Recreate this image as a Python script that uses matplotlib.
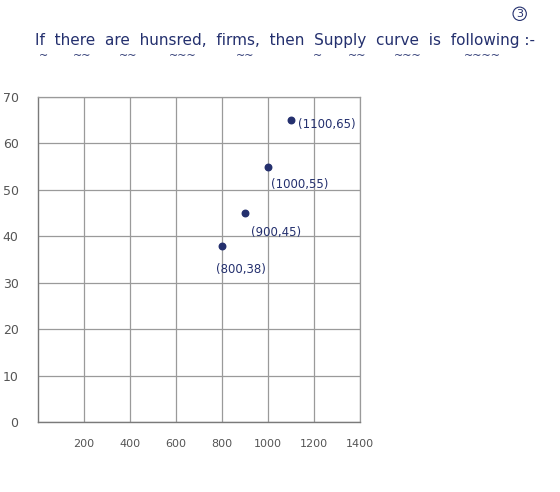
import matplotlib.pyplot as plt

# 供给曲线上的点
quantity = [800, 900, 1000, 1100]
price = [38, 45, 55, 65]
point_labels = ['(800,38)', '(900,45)', '(1000,55)', '(1100,65)']

x_ticks = [200, 400, 600, 800, 1000, 1200, 1400]
y_ticks = [0, 10, 20, 30, 40, 50, 60, 70]

title = 'If  there  are  hunsred,  firms,  then  Supply  curve  is  following :-'
# 标题下面的波浪线（图中横向位置，像素）
squiggle_x = [43, 82, 128, 183, 245, 318, 357, 408, 482]
squiggle_txt = ['~', '~~', '~~', '~~~', '~~', '~', '~~', '~~~', '~~~~']

ink = '#24306e'
pencil = '#555555'

fig = plt.figure(figsize=(5.6, 4.92), dpi=100)
ax = fig.add_axes([38 / 560, 1 - 422 / 492, 322 / 560, 325 / 492])

ax.set_xlim(0, 1400)
ax.set_ylim(0, 70)
ax.set_xticks(x_ticks)
ax.set_yticks(y_ticks)
ax.set_xticklabels([str(t) for t in x_ticks], color=pencil, fontsize=8)
ax.set_yticklabels([str(t) for t in y_ticks], color=pencil, fontsize=9)
ax.tick_params(axis='x', length=0, pad=12)
ax.tick_params(axis='y', length=0, pad=14)
ax.grid(True, color='#9a9a9a', linewidth=0.9)
for side in ['top', 'right']:
    ax.spines[side].set_color('#9a9a9a')
    ax.spines[side].set_linewidth(0.9)
for side in ['left', 'bottom']:
    ax.spines[side].set_color('#7a7a7a')
    ax.spines[side].set_linewidth(1.0)

ax.scatter(quantity, price, s=22, color=ink, zorder=3)

# 标注的位置偏移
offsets = [(-4, -17), (4, -14), (2, -13), (5, -3)]
for q, p, lab, off in zip(quantity, price, point_labels, offsets):
    ax.annotate(lab, (q, p), xytext=off, textcoords='offset points',
                color=ink, fontsize=8.5, ha='left', va='center')

fig.text(35 / 560, 1 - 40 / 492, title, color=ink, fontsize=11, ha='left', va='center')
for sx, st in zip(squiggle_x, squiggle_txt):
    fig.text(sx / 560, 1 - 56 / 492, st, color=ink, fontsize=8, ha='center', va='center')
fig.text(0.928, 0.972, '3', color=ink, fontsize=8, ha='center', va='center',
         bbox=dict(boxstyle='circle,pad=0.15', fc='none', ec=ink, lw=0.8))

plt.savefig('out.png', dpi=100)
